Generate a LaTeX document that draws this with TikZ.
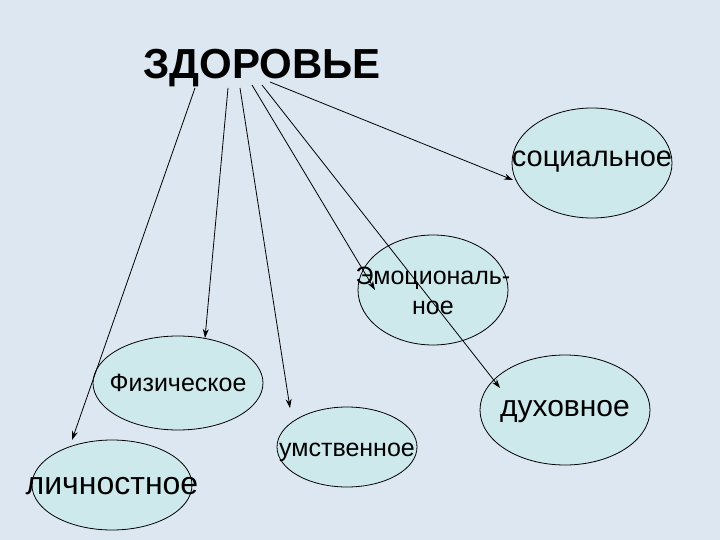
\documentclass[tikz,border=0pt]{standalone}
\usepackage{fontspec}
\setmainfont{Liberation Sans}
\usetikzlibrary{arrows.meta}
\definecolor{bg}{HTML}{DCE7F1}
\definecolor{ell}{HTML}{CDE9EC}
\begin{document}
\begin{tikzpicture}[x=1pt,y=-1pt,
  arr/.style={-{Stealth[length=9pt,width=6pt]},line width=0.8pt}]
\fill[bg] (0,0) rectangle (720,540);
\useasboundingbox (0,0) rectangle (720,540);
\fill[ell,draw=black,line width=0.8pt] (592,163) ellipse [x radius=80,y radius=55];
\fill[ell,draw=black,line width=0.8pt] (433,290) ellipse [x radius=75,y radius=55];
\fill[ell,draw=black,line width=0.8pt] (178,383) ellipse [x radius=85,y radius=47];
\fill[ell,draw=black,line width=0.8pt] (565,410) ellipse [x radius=85,y radius=55];
\fill[ell,draw=black,line width=0.8pt] (347,447) ellipse [x radius=70,y radius=40];
\fill[ell,draw=black,line width=0.8pt] (112,485) ellipse [x radius=80,y radius=45];
\coordinate (s1) at (195,88); \coordinate (e1) at (72,440);
\coordinate (s2) at (228,88); \coordinate (e2) at (205,338);
\coordinate (s3) at (240,88); \coordinate (e3) at (290,408);
\coordinate (s4) at (252,85); \coordinate (e4) at (375,290);
\coordinate (s5) at (262,85); \coordinate (e5) at (500,388);
\coordinate (s6) at (270,82); \coordinate (e6) at (513,180);
\foreach \i in {1,...,6} \draw[arr] (s\i) -- (e\i);
\node[font=\bfseries\fontsize{42}{46}\selectfont] (t) at (262,68) {ЗДОРОВЬЕ};
\node[font=\fontsize{29}{32}\selectfont] (soc) at (592,162) {социальное};
\node[font=\fontsize{25}{30}\selectfont,align=center] (emo) at (433,291) {Эмоциональ-\\ное};
\node[font=\fontsize{25}{28}\selectfont] (fiz) at (178,383) {Физическое};
\node[font=\fontsize{30}{34}\selectfont] (duh) at (565,412) {духовное};
\node[font=\fontsize{25}{28}\selectfont] (um) at (347,452) {умственное};
\node[font=\fontsize{32}{36}\selectfont] (lich) at (112,486) {личностное};
\end{tikzpicture}
\end{document}
